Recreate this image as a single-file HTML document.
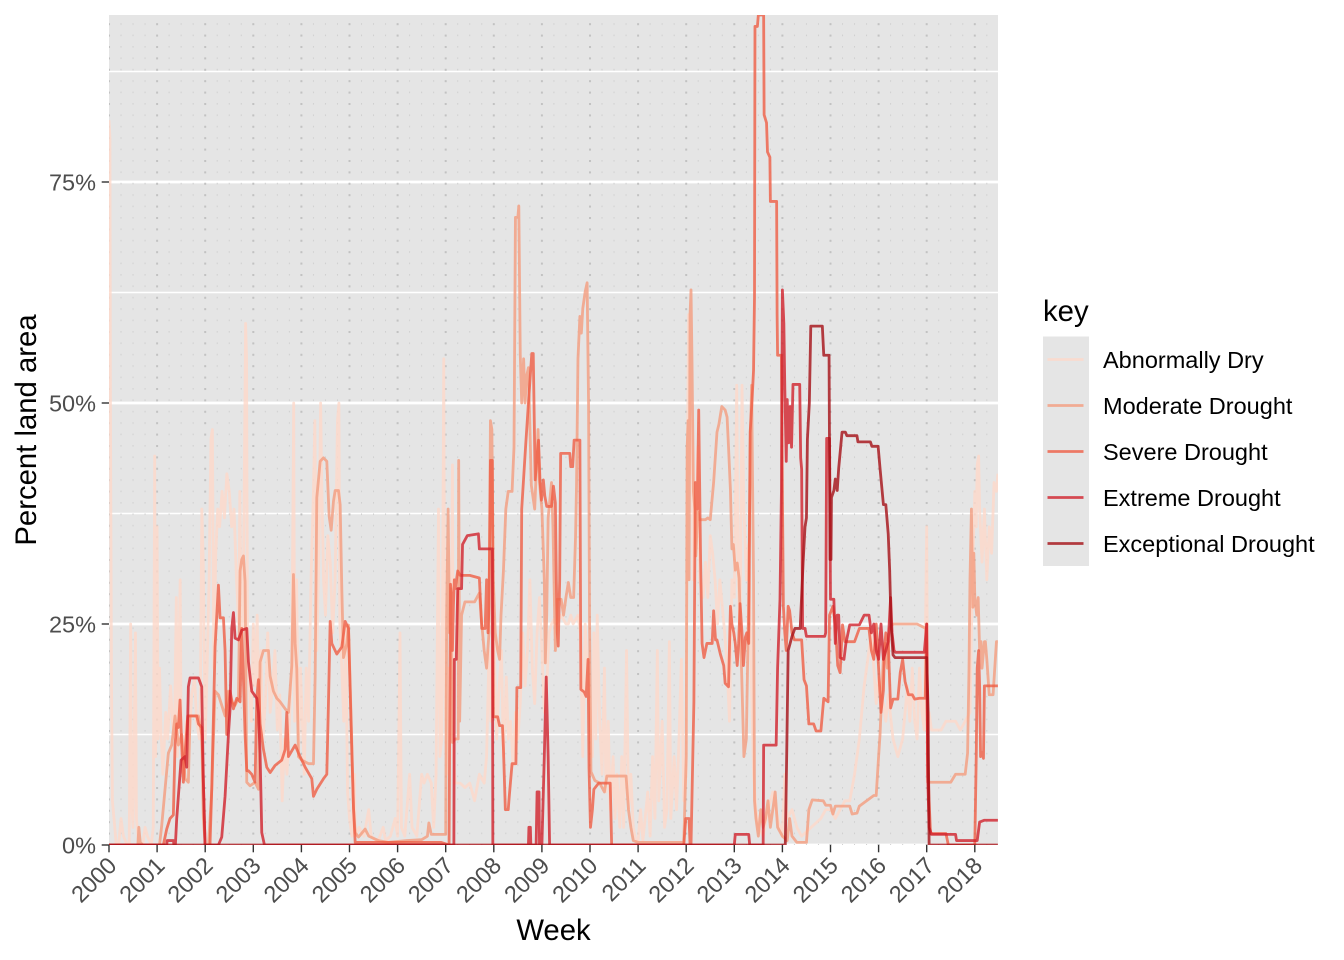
<!DOCTYPE html>
<html><head><meta charset="utf-8"><style>
html,body{margin:0;padding:0;background:#fff;}
svg{display:block;font-family:"Liberation Sans",Arial,sans-serif;}
</style></head><body>
<svg width="1344" height="960" viewBox="0 0 1344 960" xmlns="http://www.w3.org/2000/svg">
<defs>
<clipPath id="pc"><rect x="109" y="15" width="889" height="830"/></clipPath>
<pattern id="dq" x="108.5" y="844" width="12.025" height="11.4" patternUnits="userSpaceOnUse"><rect x="0" y="0" width="1" height="1.6" fill="#cfcfcf"/></pattern>
<pattern id="dy" x="108" y="844" width="48.1" height="11.4" patternUnits="userSpaceOnUse"><rect x="0" y="0" width="2" height="2" fill="#c2c2c2"/></pattern>
</defs>
<rect width="1344" height="960" fill="#fff"/>
<rect x="109" y="15" width="889" height="830" fill="#e5e5e5"/>
<g stroke="#fff" fill="none">
<line x1="109" x2="998" y1="734.5" y2="734.5" stroke-width="1.4"/>
<line x1="109" x2="998" y1="513.5" y2="513.5" stroke-width="1.4"/>
<line x1="109" x2="998" y1="292.5" y2="292.5" stroke-width="1.4"/>
<line x1="109" x2="998" y1="71.5" y2="71.5" stroke-width="1.4"/>
<line x1="109" x2="998" y1="845" y2="845" stroke-width="2.8"/>
<line x1="109" x2="998" y1="624" y2="624" stroke-width="2.8"/>
<line x1="109" x2="998" y1="403" y2="403" stroke-width="2.8"/>
<line x1="109" x2="998" y1="182" y2="182" stroke-width="2.8"/>
</g>
<rect x="109" y="15" width="889" height="830" fill="url(#dq)"/>
<rect x="109" y="15" width="889" height="830" fill="url(#dy)"/>
<g clip-path="url(#pc)">
<g transform="translate(109,845) scale(48.1,-8.84)" fill="none" stroke-width="2.8" stroke-linejoin="round" stroke-opacity="0.8">
<polyline vector-effect="non-scaling-stroke" stroke="#fed8c9" points="0,82 0.02,80 0.03,50 0.05,20 0.07,5 0.12,2 0.15,0 0.2,0 0.25,3 0.3,1 0.38,0 0.42,0 0.45,25 0.47,5 0.5,2 0.55,24 0.57,3 0.62,0 0.7,0 0.75,2 0.8,1 0.88,0 0.92,2 0.95,44 0.97,10 1.0,36 1.02,12 1.05,20 1.08,13 1.12,8 1.18,15 1.22,12 1.28,18 1.32,14 1.36,12 1.4,28 1.42,10 1.48,30 1.5,12 1.55,8 1.6,14 1.65,10 1.72,17 1.78,19 1.82,14 1.88,12 1.9,17 1.93,38 1.96,32 2.0,12 2.04,20 2.08,30 2.12,46 2.15,47 2.18,20 2.22,33 2.26,38 2.3,36 2.35,40 2.4,37 2.45,42 2.5,40 2.55,36 2.6,38 2.65,30 2.7,25 2.72,40 2.76,20 2.8,33 2.84,59 2.86,55 2.88,22 2.92,18 2.96,14 3.0,25 3.04,18 3.08,26 3.12,14 3.16,22 3.2,12 3.25,16 3.3,24 3.35,15 3.4,18 3.45,22 3.5,13 3.55,17 3.6,5 3.65,12 3.7,8 3.75,14 3.8,20 3.84,50 3.86,14 3.9,30 3.94,10 3.98,20 4.02,14 4.06,8 4.1,20 4.15,14 4.2,30 4.25,40 4.28,48 4.32,22 4.36,32 4.4,50 4.42,42 4.46,30 4.5,26 4.55,35 4.6,32 4.65,24 4.7,30 4.75,48 4.78,50 4.8,25 4.84,20 4.88,14 4.92,25 4.96,6 5.0,3 5.05,1 5.1,8 5.12,1 5.2,2 5.3,1 5.4,4 5.45,1 5.55,0.5 5.6,0.5 5.7,2 5.75,0.5 5.85,1 5.95,3 6.0,1 6.05,24 6.08,2 6.15,1 6.25,8 6.3,2 6.4,1 6.5,8 6.55,7 6.62,8 6.7,7 6.75,2 6.8,8 6.85,38 6.88,10 6.92,12 6.96,55 6.98,20 7.02,8 7.06,20 7.1,12 7.14,43 7.16,10 7.2,7 7.3,7 7.4,6.5 7.5,7 7.6,5 7.7,8 7.8,7 7.85,10 7.9,22 7.94,14 7.98,27 8.02,20 8.06,12 8.1,17 8.16,22 8.2,10 8.26,19 8.3,12 8.35,14 8.4,9 8.45,15 8.5,12 8.55,16 8.6,24 8.65,18 8.7,22 8.75,30 8.8,20 8.85,16 8.9,24 8.95,28 9.0,22 9.05,15 9.1,18 9.15,24 9.2,25 9.25,25.5 9.3,25 9.4,26 9.5,25 9.55,25 9.6,26 9.65,25 9.75,26 9.8,24 9.85,10 9.9,25 9.95,20 10.0,15 10.05,10 10.08,24 10.12,12 10.15,26 10.2,14 10.25,8 10.3,20 10.33,6 10.38,14 10.42,4 10.48,10 10.52,3 10.56,8 10.62,2 10.66,10 10.7,2 10.76,22 10.8,4 10.85,8 10.9,2 10.95,0.5 11.0,0.5 11.05,4 11.1,0.5 11.2,6 11.25,1 11.3,10 11.35,3 11.4,22 11.43,5 11.5,14 11.55,2 11.6,4 11.65,23 11.68,3 11.75,10 11.8,4 11.85,12 11.9,21 11.95,5 12.0,8 12.02,40 12.05,60 12.08,42 12.12,48 12.15,30 12.2,35 12.24,45 12.28,30 12.35,28 12.4,32 12.45,28 12.5,35 12.55,33 12.6,30 12.65,25 12.7,30 12.75,27 12.8,24 12.85,20 12.9,14 12.95,30 13.0,28 13.05,52 13.08,30 13.12,24 13.16,52 13.2,38 13.25,30 13.3,34 13.35,20 13.4,8 13.45,4 13.5,2 13.6,1 13.7,4 13.8,6 13.9,3 14.0,1 14.05,8 14.1,3 14.2,4 14.3,2 14.4,1 14.5,1.5 14.6,2 14.7,2.5 14.8,3 14.9,4 15.0,4 15.1,3 15.2,4 15.3,5 15.4,5 15.5,8 15.6,12 15.7,18 15.8,22 15.85,24 15.9,20 15.95,16 16.0,19 16.05,17 16.1,16 16.15,14 16.2,17 16.3,12 16.4,10 16.5,12 16.55,15 16.6,18 16.65,14 16.7,20 16.75,14 16.8,12 16.85,20 16.9,15 16.95,13 17.0,36 17.02,14 17.05,15 17.1,13 17.3,13 17.4,14 17.6,14 17.7,13 17.8,14 17.9,15 17.95,30 18.0,40 18.03,36 18.05,43 18.08,44 18.1,38 18.15,32 18.2,38 18.25,30 18.3,36 18.35,33 18.4,41 18.45,40 18.48,42"/>
<polyline vector-effect="non-scaling-stroke" stroke="#f49c7e" points="0,0 0.6,0 0.62,2 0.65,0.3 0.7,0 1.05,0 1.096,2.2 1.165,6.3 1.234,10.4 1.304,11.3 1.373,14.6 1.442,11.3 1.512,12.5 1.581,7.5 1.65,7.1 1.685,14.6 1.859,14.6 1.928,12.5 1.962,3 2.0,0 2.07,0 2.136,6.3 2.205,17.4 2.275,17 2.413,14.6 2.483,17.4 2.552,16.2 2.621,15.8 2.691,16.6 2.725,31 2.76,32.3 2.795,32.7 2.829,29.8 2.864,7.1 2.933,6.7 3.037,7.1 3.107,6.3 3.141,20.7 3.211,22 3.315,22 3.35,19.1 3.419,17.4 3.488,16.6 3.558,16.2 3.662,15.4 3.731,15 3.8,20.3 3.835,30.6 3.87,22.8 3.904,19.9 3.939,10 4.008,9.6 4.147,9.2 4.251,9.2 4.286,19.1 4.32,39.3 4.39,43.4 4.459,43.8 4.528,43.4 4.577,37.2 4.619,35.6 4.667,38.9 4.702,40.1 4.771,40.1 4.806,38.5 4.84,29 4.875,21.2 4.945,22.8 4.979,24.9 5.049,11.3 5.083,4.2 5.118,1.4 5.187,0.9 5.326,1.8 5.4,1 5.6,0.5 5.8,0.3 6.2,0.5 6.5,0.6 6.62,1 6.65,2.5 6.7,1.2 7.0,1.2 7.02,26 7.05,38 7.08,24 7.1,29 7.14,11.6 7.2,12 7.26,12 7.27,43.5 7.29,14 7.33,26 7.4,27.5 7.6,27.5 7.7,28.5 7.75,25 7.8,22 7.85,20 7.9,24 7.93,48 7.96,47 7.99,30 8.03,24 8.08,22 8.12,21 8.15,26 8.2,31 8.25,38 8.3,40 8.38,40 8.42,45 8.45,71 8.5,71 8.52,72.3 8.55,55.5 8.58,50 8.62,55 8.65,50 8.68,53 8.72,54 8.78,40.7 8.85,38 8.92,47 8.95,41 9.0,38 9.05,30 9.07,20.6 9.1,26 9.13,37 9.2,41 9.23,36 9.28,22 9.32,27.8 9.4,27.8 9.45,26 9.5,28 9.55,29.7 9.6,28 9.66,28 9.7,35 9.72,40.7 9.75,55 9.79,59.8 9.82,57.9 9.85,60.7 9.9,62.6 9.94,63.6 9.97,50 9.99,26 10.02,8.3 10.1,7.3 10.2,7 10.3,6 10.35,7.8 10.75,7.8 10.8,4 10.85,2 10.9,0.5 11.0,0.3 11.95,0.3 12.0,10 12.02,45 12.04,48 12.06,30 12.08,60 12.1,62.8 12.12,55 12.15,40 12.18,38 12.2,32.7 12.24,37.7 12.28,36.8 12.4,36.8 12.45,37 12.5,36.8 12.57,41 12.64,46.7 12.68,47.6 12.74,49.6 12.81,49.2 12.85,48.4 12.88,45 12.92,40.1 12.95,33.5 12.98,34 13.02,31.1 13.06,31.9 13.1,30.2 13.15,20 13.2,10 13.25,12 13.3,28 13.33,45 13.36,52 13.4,30 13.42,5 13.45,3 13.5,1 13.55,4 13.6,2 13.65,3 13.7,5 13.75,2 13.8,4 13.85,6 13.9,2 14.0,1 14.1,0.5 14.15,3 14.2,1 14.3,0.3 14.5,0.3 14.55,4 14.62,5.1 14.85,5 14.9,4.5 15.0,4.5 15.05,3.5 15.1,4.4 15.4,4.4 15.45,3.5 15.55,3.6 15.6,4.4 15.9,5.6 15.95,5.6 16.0,10 16.03,12.5 16.07,17.9 16.1,21.2 16.14,22.8 16.18,20 16.22,24.5 16.3,25 16.8,25 16.98,24.5 17.0,23 17.02,7.1 17.05,7.1 17.5,7.1 17.6,8 17.8,8 17.85,10.4 17.88,20 17.9,30 17.93,38 17.96,26.9 17.98,33 18.0,28 18.04,26 18.07,28 18.1,22 18.13,23 18.15,20 18.2,23 18.22,23 18.25,21 18.3,17 18.38,17 18.45,23 18.48,23"/>
<polyline vector-effect="non-scaling-stroke" stroke="#ef5e45" points="0,0 1.13,0 1.2,1.8 1.269,3 1.338,3.4 1.373,11.3 1.408,13.7 1.442,13.3 1.477,16.4 1.512,11.3 1.546,7.1 1.581,10.4 1.637,14.6 1.824,14.6 1.859,13.7 1.928,13.3 1.962,7.1 1.997,0 2.1,0 2.136,6.3 2.205,22.4 2.275,29.4 2.309,25.7 2.379,25.7 2.413,22 2.448,12.5 2.517,17.4 2.587,15.4 2.656,16.6 2.725,16.2 2.76,24.5 2.795,18.7 2.829,12.5 2.864,8.4 2.899,8.4 2.968,8 3.037,7.1 3.072,16.6 3.107,18.7 3.141,13.7 3.211,10.8 3.28,8.8 3.35,8.2 3.453,9 3.592,9.6 3.662,10.8 3.696,15 3.731,10 3.87,11.3 3.939,10.4 4.078,8.8 4.216,7.5 4.251,5.5 4.32,6.3 4.459,7.5 4.528,8 4.563,16.2 4.598,25.3 4.632,22.8 4.736,21.6 4.84,22.4 4.91,25.3 4.979,24.5 5.049,10.4 5.083,4.2 5.118,0.3 6.9,0.3 7.07,0 7.09,20 7.1,29.5 7.12,28 7.14,22 7.16,27 7.18,30 7.2,29 7.25,31 7.3,30.5 7.5,30.5 7.7,30.2 7.75,24.5 7.82,24.5 7.85,30 7.88,24 7.9,27 7.93,43.5 7.97,43.5 7.99,14.5 8.08,14.5 8.12,13.5 8.18,13.5 8.2,11 8.24,4 8.3,4 8.32,5.4 8.38,9.2 8.46,9.2 8.48,17.8 8.56,17.8 8.58,38 8.66,45 8.72,50 8.79,55.6 8.82,55.6 8.86,41.3 8.9,44 8.93,45.8 8.96,41.3 8.99,39 9.03,41.3 9.06,39.5 9.1,38.3 9.2,38.3 9.24,40.6 9.28,38.7 9.3,30 9.32,24 9.34,22.5 9.37,30 9.39,44.3 9.58,44.3 9.6,42.8 9.64,42.8 9.67,45.8 9.79,45.8 9.81,17.6 9.88,17.3 9.92,16.8 9.96,21 9.98,8.7 10.01,2 10.05,4 10.08,6.3 10.18,7 10.42,7 10.45,0 11.95,0 11.99,3 12.06,3 12.08,0 12.1,0 12.16,16.2 12.19,41 12.23,38 12.26,49.2 12.3,32 12.33,22.8 12.37,21.2 12.43,22.8 12.54,22.8 12.57,26.5 12.61,23.2 12.64,23.2 12.71,21.6 12.78,20.3 12.81,18.3 12.88,17.9 12.92,27 12.95,25 12.99,24 13.02,22.8 13.06,20.3 13.09,22.8 13.12,27.3 13.16,24 13.19,20.3 13.23,23.5 13.26,24 13.3,22.8 13.32,39.3 13.33,46.7 13.37,50.4 13.4,53.7 13.42,62 13.43,92.6 13.48,92.6 13.5,93.9 13.61,93.9 13.62,82.6 13.67,81.7 13.69,78.4 13.74,77.8 13.75,72.8 13.88,72.8 13.89,60 13.9,55.4 13.98,55.4 14.0,40 14.02,27 14.05,24 14.08,22 14.12,27 14.15,26.5 14.2,24 14.25,23.2 14.4,23.2 14.45,18.7 14.5,18 14.55,13.7 14.65,13.7 14.7,12.9 14.8,12.9 14.86,16.6 14.95,16.2 14.98,26 15.05,27 15.1,25 15.15,20.3 15.2,19.5 15.25,24.9 15.3,23 15.5,23 15.6,24.5 15.8,24.5 15.85,22 15.9,21 15.95,25 16.0,20 16.05,15 16.1,17.5 16.12,22 16.15,24 16.2,23 16.25,15.5 16.3,16.5 16.4,16.5 16.45,19.5 16.5,21 16.55,18.5 16.62,17 16.7,17 16.75,16.5 16.85,16.6 16.97,16.6 17.0,25 17.02,10 17.05,5 17.08,1.3 17.4,1.3 17.45,0 18.0,0 18.03,10 18.05,20 18.08,22 18.1,18 18.12,10 18.15,10.5 18.18,9.8 18.2,18 18.48,18"/>
<polyline vector-effect="non-scaling-stroke" stroke="#d1222c" points="0,0 1.2,0 1.21,0.5 1.34,0.5 1.35,0 1.38,0 1.408,3 1.498,9.6 1.581,10 1.616,8.8 1.65,17.9 1.685,18.9 1.859,18.9 1.928,17.9 1.962,7.1 1.997,0 2.275,0 2.344,0.9 2.413,5.5 2.483,12.5 2.517,15.4 2.552,24.5 2.587,26.3 2.621,23.4 2.691,23.2 2.76,24.3 2.864,24.5 2.899,20.7 2.968,17.4 3.072,16.6 3.107,15 3.141,10.4 3.176,1.4 3.232,0 7.17,0 7.18,21 7.22,21 7.25,29 7.33,29 7.35,34 7.45,35 7.68,35.2 7.7,33.5 7.97,33.5 7.98,0 8.72,0 8.73,2 8.76,2 8.77,0 8.88,0 8.9,6 8.94,6 8.95,0 9.0,0 9.05,10 9.09,19 9.13,10 9.16,0 13.0,0 13.02,1.2 13.3,1.2 13.32,0 13.6,0 13.61,11.3 13.87,11.3 13.9,20 13.95,27.8 13.98,40 14.0,62.8 14.03,59 14.05,51.7 14.08,43.4 14.1,50.4 14.13,45.5 14.16,49.6 14.19,45 14.22,52.1 14.36,52.1 14.38,43.8 14.4,42.5 14.42,24.5 14.47,24.5 14.5,23.6 14.88,23.6 14.9,24 14.92,46 14.98,46 15.0,27.8 15.07,27.8 15.1,22.8 15.14,26 15.17,26 15.2,21.2 15.28,21 15.32,22.8 15.4,24.9 15.6,24.9 15.7,26 15.8,26 15.85,24 15.9,25 15.95,22 16.0,21 16.05,25 16.1,21 16.2,23 16.25,28 16.28,24 16.32,22 16.35,21.8 16.95,21.8 17.0,25 17.02,8 17.05,2 17.1,1.2 17.6,1.2 17.62,0.5 18.05,0.5 18.1,2.6 18.2,2.8 18.48,2.8"/>
<polyline vector-effect="non-scaling-stroke" stroke="#a50f15" points="0,0 14.06,0 14.09,10.4 14.12,22 14.16,22.8 14.2,23.6 14.26,24.5 14.37,24.5 14.43,31.9 14.47,36 14.5,37 14.52,45.9 14.56,50 14.59,58.7 14.83,58.7 14.86,55.4 14.97,55.4 14.99,32.3 15.01,32.3 15.02,39.3 15.07,40.1 15.1,41.4 15.14,40.1 15.17,42.6 15.24,46.7 15.31,46.7 15.34,46.3 15.55,46.3 15.57,45.6 15.83,45.6 15.86,45.1 15.99,45.1 16.03,42.6 16.1,38.5 16.15,38.5 16.2,35.2 16.23,31.1 16.26,24.9 16.3,21.5 16.34,21.2 17.0,21.2 17.03,15 17.05,0 18.48,0"/>
</g>
</g>
<g stroke="#333" stroke-width="1.4">
<line x1="101.7" x2="109" y1="845" y2="845"/>
<line x1="101.7" x2="109" y1="624" y2="624"/>
<line x1="101.7" x2="109" y1="403" y2="403"/>
<line x1="101.7" x2="109" y1="182" y2="182"/>
<line x1="109" x2="109" y1="845" y2="852.3"/>
<line x1="157.1" x2="157.1" y1="845" y2="852.3"/>
<line x1="205.2" x2="205.2" y1="845" y2="852.3"/>
<line x1="253.3" x2="253.3" y1="845" y2="852.3"/>
<line x1="301.4" x2="301.4" y1="845" y2="852.3"/>
<line x1="349.5" x2="349.5" y1="845" y2="852.3"/>
<line x1="397.6" x2="397.6" y1="845" y2="852.3"/>
<line x1="445.7" x2="445.7" y1="845" y2="852.3"/>
<line x1="493.8" x2="493.8" y1="845" y2="852.3"/>
<line x1="541.9" x2="541.9" y1="845" y2="852.3"/>
<line x1="590" x2="590" y1="845" y2="852.3"/>
<line x1="638.1" x2="638.1" y1="845" y2="852.3"/>
<line x1="686.2" x2="686.2" y1="845" y2="852.3"/>
<line x1="734.3" x2="734.3" y1="845" y2="852.3"/>
<line x1="782.4" x2="782.4" y1="845" y2="852.3"/>
<line x1="830.5" x2="830.5" y1="845" y2="852.3"/>
<line x1="878.6" x2="878.6" y1="845" y2="852.3"/>
<line x1="926.7" x2="926.7" y1="845" y2="852.3"/>
<line x1="974.8" x2="974.8" y1="845" y2="852.3"/>
</g>
<g font-size="23.5" fill="#4d4d4d" text-anchor="end">
<text x="96" y="853.4">0%</text>
<text x="96" y="632.4">25%</text>
<text x="96" y="411.4">50%</text>
<text x="96" y="190.4">75%</text>
<text x="118" y="867" transform="rotate(-45 118 867)">2000</text>
<text x="166.1" y="867" transform="rotate(-45 166.1 867)">2001</text>
<text x="214.2" y="867" transform="rotate(-45 214.2 867)">2002</text>
<text x="262.3" y="867" transform="rotate(-45 262.3 867)">2003</text>
<text x="310.4" y="867" transform="rotate(-45 310.4 867)">2004</text>
<text x="358.5" y="867" transform="rotate(-45 358.5 867)">2005</text>
<text x="406.6" y="867" transform="rotate(-45 406.6 867)">2006</text>
<text x="454.7" y="867" transform="rotate(-45 454.7 867)">2007</text>
<text x="502.8" y="867" transform="rotate(-45 502.8 867)">2008</text>
<text x="550.9" y="867" transform="rotate(-45 550.9 867)">2009</text>
<text x="599" y="867" transform="rotate(-45 599 867)">2010</text>
<text x="647.1" y="867" transform="rotate(-45 647.1 867)">2011</text>
<text x="695.2" y="867" transform="rotate(-45 695.2 867)">2012</text>
<text x="743.3" y="867" transform="rotate(-45 743.3 867)">2013</text>
<text x="791.4" y="867" transform="rotate(-45 791.4 867)">2014</text>
<text x="839.5" y="867" transform="rotate(-45 839.5 867)">2015</text>
<text x="887.6" y="867" transform="rotate(-45 887.6 867)">2016</text>
<text x="935.7" y="867" transform="rotate(-45 935.7 867)">2017</text>
<text x="983.8" y="867" transform="rotate(-45 983.8 867)">2018</text>
</g>
<text x="553.5" y="940" font-size="29.3" fill="#000" text-anchor="middle">Week</text>
<text x="36" y="430" font-size="29.3" fill="#000" text-anchor="middle" transform="rotate(-90 36 430)">Percent land area</text>
<text x="1043" y="321" font-size="29.3" fill="#000">key</text>
<rect x="1043" y="336.5" width="46" height="229.5" fill="#e5e5e5"/>
<g stroke-width="2.8" stroke-opacity="0.8">
<line x1="1047.5" x2="1083.5" y1="359.5" y2="359.5" stroke="#fed8c9"/>
<line x1="1047.5" x2="1083.5" y1="405.5" y2="405.5" stroke="#f49c7e"/>
<line x1="1047.5" x2="1083.5" y1="451.5" y2="451.5" stroke="#ef5e45"/>
<line x1="1047.5" x2="1083.5" y1="497.5" y2="497.5" stroke="#d1222c"/>
<line x1="1047.5" x2="1083.5" y1="543.5" y2="543.5" stroke="#a50f15"/>
</g>
<g font-size="23.5" fill="#000">
<text x="1103" y="367.9">Abnormally Dry</text>
<text x="1103" y="413.9">Moderate Drought</text>
<text x="1103" y="459.9">Severe Drought</text>
<text x="1103" y="505.9">Extreme Drought</text>
<text x="1103" y="551.9">Exceptional Drought</text>
</g>
</svg>
</body></html>
